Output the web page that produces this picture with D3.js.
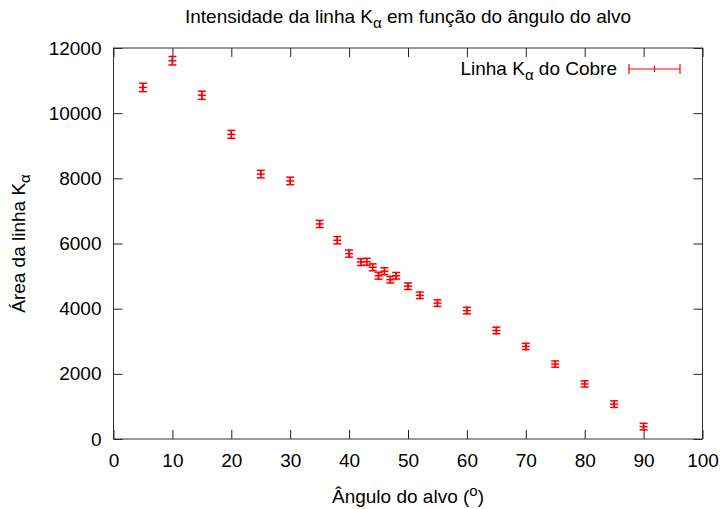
<!DOCTYPE html>
<html>
<head>
<meta charset="utf-8">
<script src="https://cdn.jsdelivr.net/npm/d3@7"></script>
<style>
  html, body { margin: 0; padding: 0; background: #fff; }
  svg { display: block; font-family: "Liberation Sans", Arial, sans-serif; }
</style>
</head>
<body>
<svg id="chart" width="722" height="509"></svg>
<script>
// Target angle (degrees) and measured Kα line area with its uncertainty
const angles = [5, 10, 15, 20, 25, 30, 35, 38, 40, 42, 43, 44, 45, 46, 47, 48, 50, 52, 55, 60, 65, 70, 75, 80, 85, 90];
const areas  = [10790, 11610, 10550, 9350, 8130, 7920, 6600, 6100, 5690, 5430, 5440, 5270, 5010, 5150, 4890, 5010, 4690, 4410, 4170, 3940, 3330, 2840, 2300, 1690, 1070, 380];
const errors = [130, 130, 125, 120, 115, 115, 110, 110, 110, 105, 105, 105, 105, 105, 100, 100, 100, 100, 100, 100, 100, 95, 95, 95, 100, 100];

const xTicks = [0, 10, 20, 30, 40, 50, 60, 70, 80, 90, 100];
const yTicks = [0, 2000, 4000, 6000, 8000, 10000, 12000];

const svg = d3.select("#chart");
const FS = 19;
const SUB = 15;
const fmt = d3.format("d");

const x = d3.scaleLinear().domain([0, 100]).range([113.5, 702.5]);
const y = d3.scaleLinear().domain([0, 12000]).range([439, 48]);

// Axes: ticks point inward, mirrored on top and right
function styleAxis(g) {
  g.select(".domain").remove();
  g.selectAll(".tick line").attr("stroke", "#222").attr("stroke-width", 1);
  g.selectAll(".tick text").attr("fill", "#000").attr("font-size", FS)
    .attr("font-family", "Liberation Sans, Arial, sans-serif");
}

svg.append("g").attr("transform", `translate(0,${y(0)})`)
  .call(d3.axisBottom(x).tickValues(xTicks).tickFormat(fmt).tickSizeInner(-9).tickSizeOuter(0).tickPadding(15))
  .call(styleAxis);
svg.append("g").attr("transform", `translate(0,${y(12000)})`)
  .call(d3.axisTop(x).tickValues(xTicks).tickSizeInner(-9).tickSizeOuter(0).tickFormat(""))
  .call(styleAxis);
svg.append("g").attr("transform", `translate(${x(0)},0)`)
  .call(d3.axisLeft(y).tickValues(yTicks).tickFormat(fmt).tickSizeInner(-9).tickSizeOuter(0).tickPadding(12))
  .call(styleAxis);
svg.append("g").attr("transform", `translate(${x(100)},0)`)
  .call(d3.axisRight(y).tickValues(yTicks).tickSizeInner(-9).tickSizeOuter(0).tickFormat(""))
  .call(styleAxis);

// Plot border
svg.append("rect")
  .attr("x", x(0)).attr("y", y(12000))
  .attr("width", x(100) - x(0)).attr("height", y(0) - y(12000))
  .attr("fill", "none").attr("stroke", "#333").attr("stroke-width", 1);

// Error bars with caps and "+" point marker
const red = "#ff0000";
const cap = 4;
const data = angles.map((a, i) => ({ a, v: areas[i], e: errors[i] }));
const pts = svg.append("g").attr("stroke", red).attr("stroke-width", 1.5).attr("fill", "none");
data.forEach(d => {
  const cx = x(d.a), cy = y(d.v), y0 = y(d.v - d.e), y1 = y(d.v + d.e);
  pts.append("line").attr("x1", cx).attr("x2", cx).attr("y1", y0).attr("y2", y1);
  pts.append("line").attr("x1", cx - cap).attr("x2", cx + cap).attr("y1", y0).attr("y2", y0);
  pts.append("line").attr("x1", cx - cap).attr("x2", cx + cap).attr("y1", y1).attr("y2", y1);
  // point marker "+"
  pts.append("line").attr("x1", cx - cap).attr("x2", cx + cap).attr("y1", cy).attr("y2", cy);
  pts.append("line").attr("x1", cx).attr("x2", cx).attr("y1", cy - cap).attr("y2", cy + cap);
});

// Text helper for labels with a subscript alpha
function kAlpha(sel, before, after) {
  sel.append("tspan").text(before + "K");
  sel.append("tspan").attr("font-size", SUB).attr("dy", 5).text("α");
  if (after) sel.append("tspan").attr("dy", -5).text(after);
}

// Title
const title = svg.append("text")
  .attr("x", (x(0) + x(100)) / 2).attr("y", 22.5)
  .attr("text-anchor", "middle").attr("font-size", FS).attr("fill", "#000");
kAlpha(title, "Intensidade da linha ", " em função do ângulo do alvo");

// Y axis label
const yl = svg.append("text")
  .attr("transform", `translate(25,${(y(0) + y(12000)) / 2}) rotate(-90)`)
  .attr("text-anchor", "middle").attr("font-size", FS).attr("fill", "#000");
kAlpha(yl, "Área da linha ", "");

// X axis label with superscript
const xl = svg.append("text")
  .attr("x", (x(0) + x(100)) / 2).attr("y", 503)
  .attr("text-anchor", "middle").attr("font-size", FS).attr("fill", "#000");
xl.append("tspan").text("Ângulo do alvo (");
xl.append("tspan").attr("font-size", SUB).attr("dy", -7).text("o");
xl.append("tspan").attr("dy", 7).text(")");

// Legend
const lg = svg.append("text")
  .attr("x", 617).attr("y", 75)
  .attr("text-anchor", "end").attr("font-size", FS).attr("fill", "#000");
kAlpha(lg, "Linha ", " do Cobre");

const ly = 69, lx0 = 629, lx1 = 680, lmid = (lx0 + lx1) / 2;
const key = svg.append("g").attr("stroke", red).attr("stroke-width", 1.2);
key.append("line").attr("x1", lx0).attr("x2", lx1).attr("y1", ly).attr("y2", ly);
key.append("line").attr("x1", lx0).attr("x2", lx0).attr("y1", ly - 5).attr("y2", ly + 5);
key.append("line").attr("x1", lx1).attr("x2", lx1).attr("y1", ly - 5).attr("y2", ly + 5);
key.append("line").attr("x1", lmid).attr("x2", lmid).attr("y1", ly - 3).attr("y2", ly + 3);
</script>
</body>
</html>
